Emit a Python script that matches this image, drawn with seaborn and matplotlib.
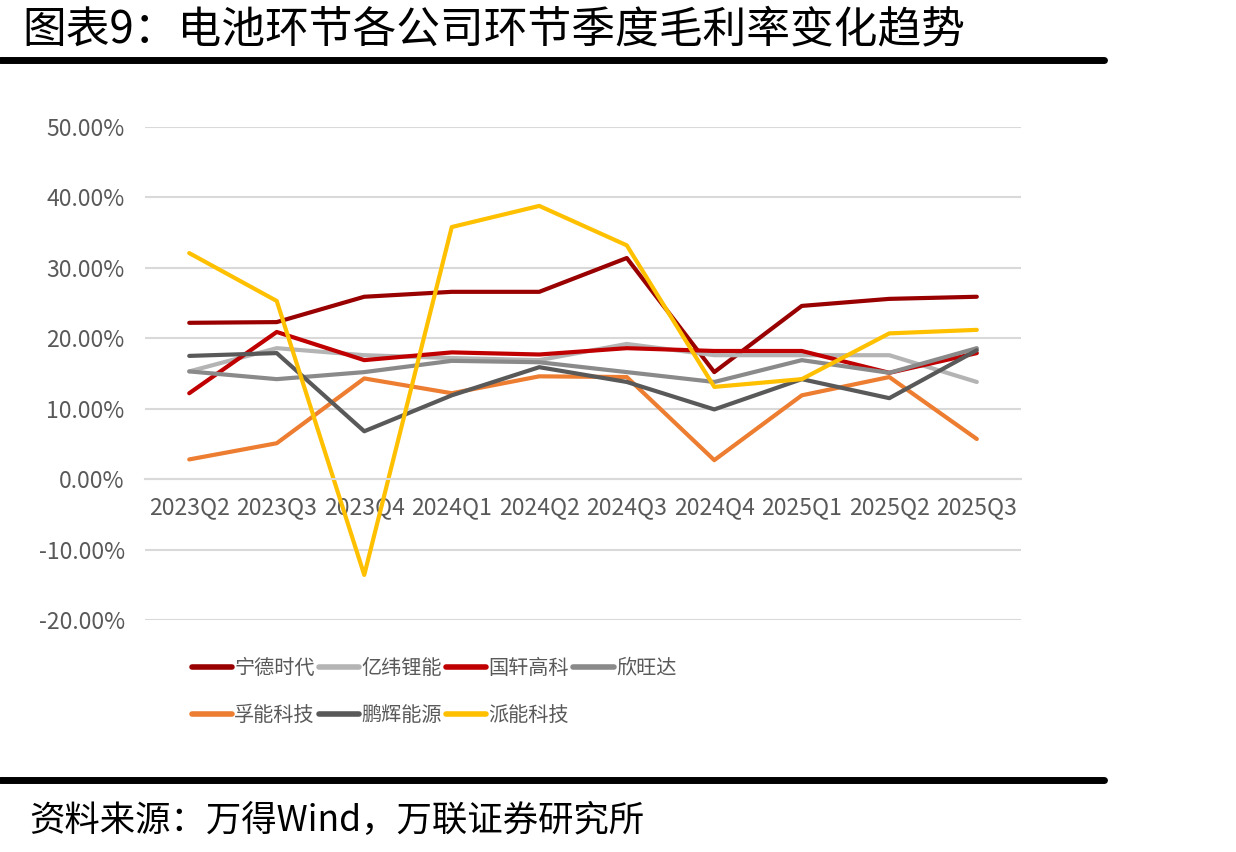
import matplotlib
matplotlib.use("Agg")
import matplotlib.pyplot as plt
import seaborn as sns
import pandas as pd
from matplotlib.lines import Line2D

quarters = ["2023Q2", "2023Q3", "2023Q4", "2024Q1", "2024Q2",
            "2024Q3", "2024Q4", "2025Q1", "2025Q2", "2025Q3"]
catl = [22.2, 22.3, 25.9, 26.6, 26.6, 31.4, 15.2, 24.6, 25.6, 25.9]        # 宁德时代
eve = [15.3, 18.6, 17.6, 17.2, 16.9, 19.2, 17.6, 17.6, 17.6, 13.8]         # 亿纬锂能
gotion = [12.2, 20.9, 16.9, 18.0, 17.7, 18.6, 18.2, 18.2, 15.1, 17.9]      # 国轩高科
sunwoda = [15.3, 14.2, 15.2, 16.8, 16.6, 15.2, 13.8, 16.9, 15.1, 18.6]     # 欣旺达
farasis = [2.8, 5.1, 14.3, 12.2, 14.6, 14.5, 2.7, 11.9, 14.5, 5.7]         # 孚能科技
greatpower = [17.5, 17.9, 6.8, 11.9, 15.9, 13.8, 9.9, 14.2, 11.5, 18.3]    # 鹏辉能源
pylon = [32.1, 25.3, -13.6, 35.8, 38.8, 33.2, 13.1, 14.2, 20.7, 21.2]      # 派能科技

companies = ["宁德时代", "亿纬锂能", "国轩高科", "欣旺达", "孚能科技", "鹏辉能源", "派能科技"]
series = [catl, eve, gotion, sunwoda, farasis, greatpower, pylon]
colors = ["#990000", "#B4B4B4", "#C00000", "#8A8A8A", "#ED7D31", "#595959", "#FFC000"]
palette = dict(zip(companies, colors))

rows = []
for name, vals in zip(companies, series):
    for i, v in enumerate(vals):
        rows.append({"idx": i, "quarter": quarters[i], "company": name, "margin": v})
df = pd.DataFrame(rows)

sns.set_theme(style="white")
plt.rcParams["font.family"] = ["Noto Sans CJK SC", "DejaVu Sans"]

fig = plt.figure(figsize=(12.36, 8.52), dpi=100)
ax = fig.add_axes([0.1177, 0.2723, 0.708, 0.5786])

sns.lineplot(data=df, x="idx", y="margin", hue="company", hue_order=companies,
             palette=palette, linewidth=3, ax=ax, legend=False)

ax.set_xlim(-0.5, len(quarters) - 0.5)
ax.set_ylim(-20, 50)
ax.set_yticks(range(-20, 51, 10))
ax.set_yticklabels([f"{v:.2f}%" for v in range(-20, 51, 10)])
ax.yaxis.grid(True, color="#D9D9D9", linewidth=1.5)
ax.set_axisbelow(True)
ax.tick_params(axis="y", length=0, pad=15, labelsize=16.5, labelcolor="#595959")

# category axis crossing at zero, with boundary ticks
for s in ["left", "right", "top"]:
    ax.spines[s].set_visible(False)
ax.spines["bottom"].set_position(("data", 0))
ax.spines["bottom"].set_color("#D9D9D9")
ax.spines["bottom"].set_linewidth(1.5)
ax.set_xticks([i - 0.5 for i in range(len(quarters) + 1)])
ax.set_xticklabels([])
ax.set_xticks(range(len(quarters)), minor=True)
ax.set_xticklabels(quarters, minor=True)
ax.tick_params(axis="x", which="major", length=4, width=1.5, color="#D9D9D9", direction="out")
ax.tick_params(axis="x", which="minor", length=0, pad=12, labelsize=16.5, labelcolor="#595959")
ax.set_xlabel("")
ax.set_ylabel("")

# legend filled column-wise, so reorder to read row-wise like the original
order = [0, 4, 1, 5, 2, 6, 3]
handles = [Line2D([0], [0], color=colors[k], lw=4) for k in order]
labels = [companies[k] for k in order]
fig.legend(handles, labels, loc="upper left", bbox_to_anchor=(0.155, 0.228),
           ncol=4, frameon=False, fontsize=14.5, labelcolor="#595959",
           handlelength=2.0, handletextpad=0.12, columnspacing=0.2,
           labelspacing=1.3, borderpad=0, borderaxespad=0)

fig.text(0.018, 0.965, "图表9：电池环节各公司环节季度毛利率变化趋势",
         fontsize=31.5, va="center", ha="left", color="black")
fig.add_artist(Line2D([0, 0.893], [0.929, 0.929], color="black", lw=5,
                      transform=fig.transFigure))
fig.add_artist(Line2D([0, 0.893], [0.085, 0.085], color="black", lw=5,
                      transform=fig.transFigure))
fig.text(0.024, 0.037, "资料来源：万得Wind，万联证券研究所",
         fontsize=25.5, va="center", ha="left", color="black")

fig.savefig("out.png", dpi=100)
